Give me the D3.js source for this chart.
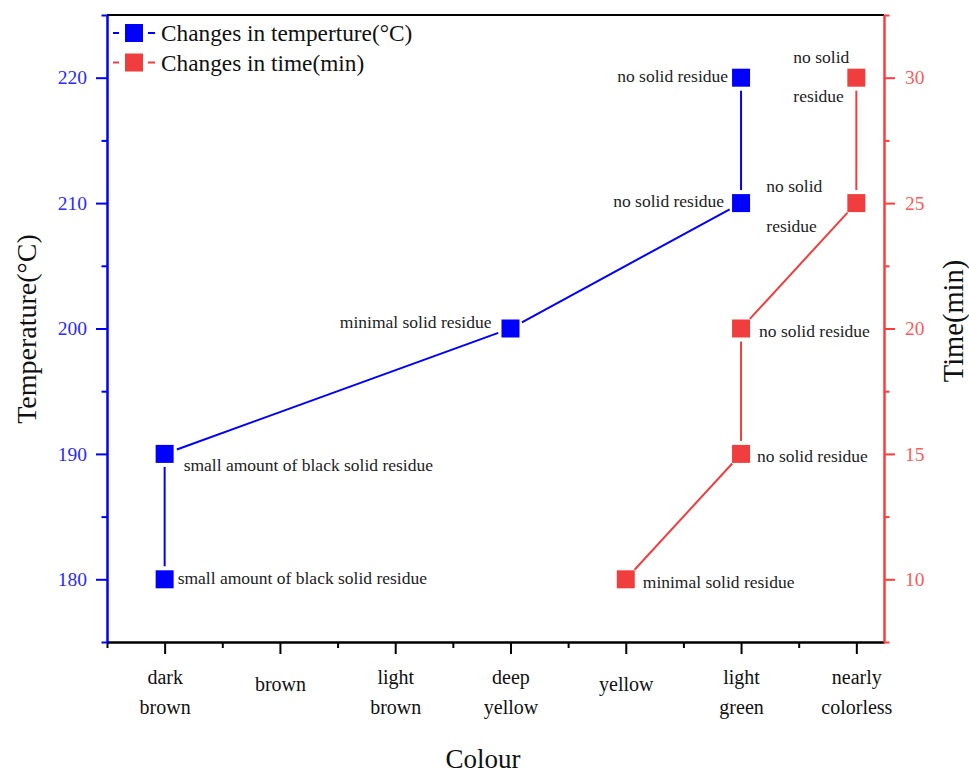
<!DOCTYPE html>
<html>
<head>
<meta charset="utf-8">
<script src="https://cdn.jsdelivr.net/npm/d3@7/dist/d3.min.js"></script>
<style>
  html, body { margin: 0; padding: 0; background: #ffffff; }
  svg { display: block; }
  text { font-family: "Liberation Serif", "Times New Roman", serif; }
</style>
</head>
<body>
<svg id="chart" width="969" height="773"></svg>
<script>
// Colour categories along the x axis
const categories = ["dark brown", "brown", "light brown", "deep yellow", "yellow", "light green", "nearly colorless"];

// Temperature series (left axis)
const tempCategory = ["dark brown", "dark brown", "deep yellow", "light green", "light green"];
const tempValues = [180, 190, 200, 210, 220];
const tempNotes = [
  "small amount of black solid residue",
  "small amount of black solid residue",
  "minimal solid residue",
  "no solid residue",
  "no solid residue"
];

// Time series (right axis)
const timeCategory = ["yellow", "light green", "light green", "nearly colorless", "nearly colorless"];
const timeValues = [10, 15, 20, 25, 30];
const timeNotes = [
  "minimal solid residue",
  "no solid residue",
  "no solid residue",
  "no solid|residue",
  "no solid|residue"
];

// Tick values
const tempTicks = [180, 190, 200, 210, 220];
const timeTicks = [10, 15, 20, 25, 30];

// Legend entries
const legendLabels = ["Changes in temperture(\u00B0C)", "Changes in time(min)"];

// ---- layout / style ----
const BLUE = "#0000ff";
const BLUE_TEXT = "#2a2aff";
const RED = "#f03e3e";
const RED_AXIS = "#ff3c3c";
const RED_TEXT = "#ff5a5a";
const FONT = '"Liberation Serif", "Times New Roman", serif';

const L = 107, R = 884, T = 15, B = 642;
const svg = d3.select("#chart");

const x = d3.scaleLinear().domain([0.5, 7.24]).range([L, R]);
const yL = d3.scaleLinear().domain([175, 225]).range([B, T]);
const yR = d3.scaleLinear().domain([7.5, 32.5]).range([B, T]);
const catPos = c => x(categories.indexOf(c) + 1);

// Frame top line
svg.append("line").attr("x1", L).attr("x2", R).attr("y1", T).attr("y2", T)
  .attr("stroke", "#000").attr("stroke-width", 2);

// Bottom axis (black)
const xMinor = d3.range(0.5, 7, 1);
const xMajor = d3.range(1, 8, 1);
const gxMinor = svg.append("g").attr("transform", `translate(0,${B})`)
  .call(d3.axisBottom(x).tickValues(xMinor).tickSize(6).tickSizeOuter(0).tickFormat(""));
const gx = svg.append("g").attr("transform", `translate(0,${B})`)
  .call(d3.axisBottom(x).tickValues(xMajor).tickSize(12).tickSizeOuter(0).tickFormat(""));
[gxMinor, gx].forEach(g => {
  g.selectAll("path,line").attr("stroke", "#000").attr("stroke-width", 2);
});

// Category labels, one or two lines
gx.selectAll(".tick").each(function(d) {
  const words = categories[d - 1].split(" ");
  const t = d3.select(this).append("text")
    .attr("fill", "#111").attr("font-size", 20).attr("font-family", FONT)
    .attr("text-anchor", "middle");
  if (words.length === 1) {
    t.append("tspan").attr("x", 0).attr("y", 49).text(words[0]);
  } else {
    words.forEach((w, i) => t.append("tspan").attr("x", 0).attr("y", 42 + i * 30).text(w));
  }
});

// Left axis (blue)
const lMinor = d3.range(175, 226, 5).filter(v => !tempTicks.includes(v));
const glMinor = svg.append("g").attr("transform", `translate(${L},0)`)
  .call(d3.axisLeft(yL).tickValues(lMinor).tickSize(5.5).tickSizeOuter(0).tickFormat(""));
const gl = svg.append("g").attr("transform", `translate(${L},0)`)
  .call(d3.axisLeft(yL).tickValues(tempTicks).tickSize(11).tickSizeOuter(0).tickPadding(9));
[glMinor, gl].forEach(g => g.selectAll("path,line").attr("stroke", BLUE).attr("stroke-width", 2));
gl.selectAll("text").attr("fill", BLUE_TEXT).attr("font-size", 19.5).attr("font-family", FONT);

// Right axis (red)
const rMinor = d3.range(7.5, 33, 2.5).filter(v => !timeTicks.includes(v));
const grMinor = svg.append("g").attr("transform", `translate(${R},0)`)
  .call(d3.axisRight(yR).tickValues(rMinor).tickSize(5.5).tickSizeOuter(0).tickFormat(""));
const gr = svg.append("g").attr("transform", `translate(${R},0)`)
  .call(d3.axisRight(yR).tickValues(timeTicks).tickSize(11).tickSizeOuter(0).tickPadding(10));
[grMinor, gr].forEach(g => g.selectAll("path,line").attr("stroke", RED_AXIS).attr("stroke-width", 2));
gr.selectAll("text").attr("fill", RED_TEXT).attr("font-size", 19.5).attr("font-family", FONT);

// Axis titles
svg.append("text").attr("transform", "translate(36,329) rotate(-90)")
  .attr("text-anchor", "middle").attr("font-size", 28).attr("fill", "#111")
  .attr("font-family", FONT).text("Temperature(\u00B0C)");
svg.append("text").attr("transform", "translate(963,321) rotate(-90)")
  .attr("text-anchor", "middle").attr("font-size", 28.5).attr("fill", "#111")
  .attr("font-family", FONT).text("Time(min)");
svg.append("text").attr("x", 483).attr("y", 768)
  .attr("text-anchor", "middle").attr("font-size", 27).attr("fill", "#111")
  .attr("font-family", FONT).text("Colour");

// Connecting lines with a gap around each marker
const GAP = 13;
function drawSeries(px, py, color) {
  const pts = px.map((xx, i) => [xx, py[i]]);
  for (let i = 0; i < pts.length - 1; i++) {
    const [x1, y1] = pts[i], [x2, y2] = pts[i + 1];
    const len = Math.hypot(x2 - x1, y2 - y1);
    if (len <= 2 * GAP) continue;
    const ux = (x2 - x1) / len, uy = (y2 - y1) / len;
    svg.append("line")
      .attr("x1", x1 + ux * GAP).attr("y1", y1 + uy * GAP)
      .attr("x2", x2 - ux * GAP).attr("y2", y2 - uy * GAP)
      .attr("stroke", color).attr("stroke-width", 2);
  }
  svg.append("g").selectAll("rect").data(pts).join("rect")
    .attr("x", d => d[0] - 9).attr("y", d => d[1] - 9)
    .attr("width", 18).attr("height", 18).attr("fill", color);
}

const tX = tempCategory.map(catPos), tY = tempValues.map(yL);
const mX = timeCategory.map(catPos), mY = timeValues.map(yR);
drawSeries(tX, tY, BLUE);
drawSeries(mX, mY, RED);

// Annotation placement: offset from each marker
const tempNotePos = [
  { dx: 13, dy: 5, anchor: "start" },
  { dx: 19, dy: 17, anchor: "start" },
  { dx: -19, dy: -1, anchor: "end" },
  { dx: -17, dy: 4, anchor: "end" },
  { dx: -13, dy: 4, anchor: "end" }
];
const timeNotePos = [
  { dx: 17, dy: 9, anchor: "start" },
  { dx: 16, dy: 8, anchor: "start" },
  { dx: 18, dy: 8, anchor: "start" },
  { dx: -90, dy: -11, anchor: "start" },
  { dx: -63, dy: -15, anchor: "start" }
];
function drawNotes(px, py, notes, pos) {
  notes.forEach((n, i) => {
    const t = svg.append("text")
      .attr("font-size", 17.5).attr("fill", "#222").attr("font-family", FONT)
      .attr("text-anchor", pos[i].anchor);
    n.split("|").forEach((line, j) => {
      t.append("tspan").attr("x", px[i] + pos[i].dx)
        .attr("y", py[i] + pos[i].dy + j * 39.5).text(line);
    });
  });
}
drawNotes(tX, tY, tempNotes, tempNotePos);
drawNotes(mX, mY, timeNotes, timeNotePos);

// Legend
const legendColors = [BLUE, RED];
const lg = svg.append("g");
legendLabels.forEach((lab, i) => {
  const cy = 33 + i * 29.5;
  const row = lg.append("g");
  row.append("line").attr("x1", 113).attr("x2", 119).attr("y1", cy).attr("y2", cy)
    .attr("stroke", legendColors[i]).attr("stroke-width", 2);
  row.append("line").attr("x1", 148).attr("x2", 155).attr("y1", cy).attr("y2", cy)
    .attr("stroke", legendColors[i]).attr("stroke-width", 2);
  row.append("rect").attr("x", 125).attr("y", cy - 9).attr("width", 18).attr("height", 18)
    .attr("fill", legendColors[i]);
  row.append("text").attr("x", 161).attr("y", cy + 8)
    .attr("font-size", 23.3).attr("fill", "#111").attr("font-family", FONT).text(lab);
});
</script>
</body>
</html>
